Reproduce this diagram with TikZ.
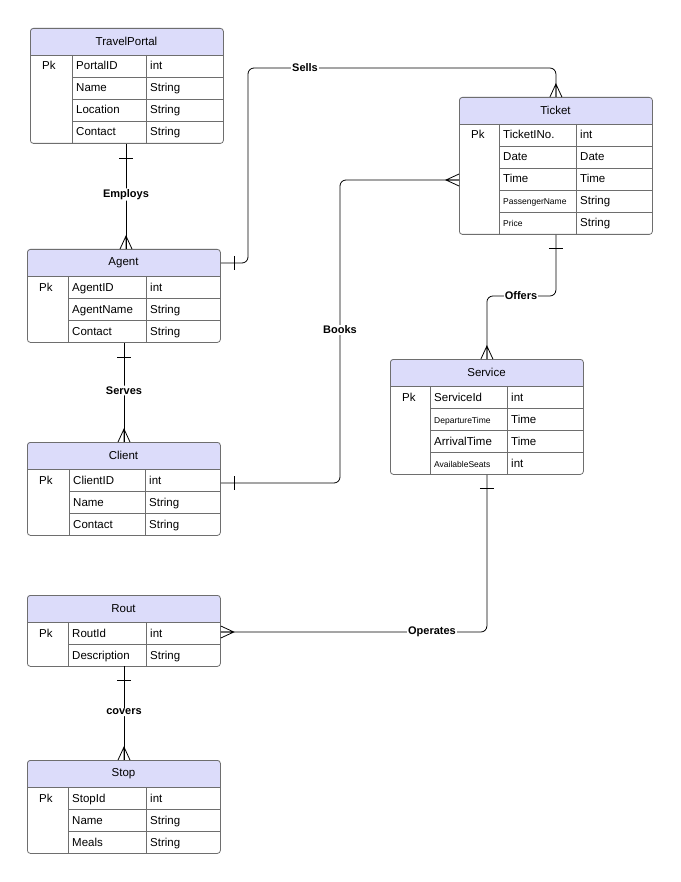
\documentclass[tikz,border=0pt]{standalone}
\usepackage{fontspec}
\setmainfont{Liberation Sans}
\usetikzlibrary{calc,positioning}
\definecolor{hdrcol}{HTML}{DCDCFA}
\definecolor{edgecol}{HTML}{6E6E6E}
\tikzset{
  ent/.style={draw=edgecol, line width=0.8pt, rounded corners=3pt, inner sep=0pt, anchor=north west},
  cell/.style={anchor=base west, inner sep=0pt, font=\fontsize{11.5}{13}\selectfont},
  lbl/.style={fill=white, inner sep=1pt, font=\bfseries\fontsize{11}{13}\selectfont},
  conn/.style={line width=0.8pt, rounded corners=6pt},
}
% entity: name, x, y, number of rows, column 1, column 2, title, rows
\newcommand{\entity}[8]{%
  \pgfmathsetmacro\eh{27+22*#4}
  \fill[hdrcol, rounded corners=3pt] (#2,#3+27) [sharp corners] -- (#2,#3+10) [rounded corners=3pt] -- (#2,#3) -- (#2+193,#3) [sharp corners] -- (#2+193,#3+27) -- cycle;
  \node[ent, minimum width=193pt, minimum height=\eh pt] (#1) at (#2,#3) {};
  \node[font=\fontsize{11.5}{13}\selectfont] at (#2+96.5,#3+13.5) {#7};
  \draw[edgecol, line width=0.8pt] (#2,#3+27) -- (#2+193,#3+27);
  \draw[edgecol] (#2+#5,#3+27) -- (#2+#5,#3+\eh) (#2+#6,#3+27) -- (#2+#6,#3+\eh);
  \foreach \pk/\nm/\ty [count=\i] in {#8} {
    \node[cell] at (#2+12,#3+20+22*\i) {\pk};
    \node[cell] at (#2+#5+4,#3+20+22*\i) {\nm};
    \node[cell] at (#2+#6+4,#3+20+22*\i) {\ty};
  }
  \foreach \i in {2,...,#4} {
    \draw[edgecol] (#2+#5,#3+5+22*\i) -- (#2+193,#3+5+22*\i);
  }
}
% one-bar end and crow's foot end; point, outward direction
\newcommand{\onebar}[3]{\draw[line width=0.8pt] ($#1+(14*#2-7*#3,14*#3-7*#2)$) -- ($#1+(14*#2+7*#3,14*#3+7*#2)$);}
\newcommand{\crowfoot}[3]{\draw[line width=0.8pt] ($#1+(-6*#3,-6*#2)$) -- ($#1+(13*#2,13*#3)$) -- ($#1+(6*#3,6*#2)$) ($#1+(13*#2,13*#3)$) -- #1;}
\begin{document}
\begin{tikzpicture}[x=1pt,y=-1pt]
\useasboundingbox (0,0) rectangle (680,882);
\entity{portal}{30}{28}{4}{42}{116}{TravelPortal}{Pk/PortalID/int, /Name/String, /Location/String, /Contact/String}
\entity{agent}{27}{249}{3}{41}{119}{Agent}{Pk/AgentID/int, /AgentName/String, /Contact/String}
\entity{client}{27}{442}{3}{42}{118}{Client}{Pk/ClientID/int, /Name/String, /Contact/String}
\entity{rout}{27}{595}{2}{41}{119}{Rout}{Pk/RoutId/int, /Description/String}
\entity{stop}{27}{760}{3}{41}{119}{Stop}{Pk/StopId/int, /Name/String, /Meals/String}
\entity{ticket}{459}{97}{5}{40}{117}{Ticket}{Pk/TicketINo./int, /Date/Date, /Time/Time, /{\fontsize{8.5}{10}\selectfont PassengerName}/String, /{\fontsize{8.5}{10}\selectfont Price}/String}
\entity{service}{390}{359}{4}{40}{117}{Service}{Pk/ServiceId/int, /{\fontsize{8.5}{10}\selectfont DepartureTime}/Time, /ArrivalTime/Time, /{\fontsize{8.5}{10}\selectfont AvailableSeats}/int}
% anchor points
\coordinate (portalS) at (126,144);
\coordinate (agentN) at (126,249);
\coordinate (agentS) at (124,343);
\coordinate (clientN) at (124,442);
\coordinate (routS) at (124,666);
\coordinate (stopN) at (124,760);
\coordinate (agentE) at ($(agent.north east)+(0,14)$);
\coordinate (clientE) at ($(client.north east)+(0,41)$);
\coordinate (routE) at ($(rout.north east)+(0,37)$);
\coordinate (ticketW) at ($(ticket.north west)+(0,83)$);
\coordinate (sellsTop) at (248,68);
\coordinate (booksTop) at (340,180);
\coordinate (offersMid) at (521,296);
% connectors
\draw[conn] (portalS) -- (agentN) node[lbl, pos=0.48] {Employs};
\draw[conn] (agentS) -- (clientN) node[lbl, pos=0.48] {Serves};
\draw[conn] (routS) -- (stopN) node[lbl, pos=0.49] {covers};
\draw[conn] (agentE) -| (sellsTop) -| (ticket.north);
\node[lbl] at (305,68) {Sells};
\draw[conn] (clientE) -| (booksTop) -- (ticketW);
\node[lbl] at (340,330) {Books};
\draw[conn] (ticket.south) |- (offersMid) -| (service.north);
\node[lbl] at (521,296) {Offers};
\draw[conn] (service.south) |- (routE);
\node[lbl] at (432,632) {Operates};
% ends
\onebar{(portalS)}{0}{1} \crowfoot{(agentN)}{0}{-1}
\onebar{(agentS)}{0}{1} \crowfoot{(clientN)}{0}{-1}
\onebar{(routS)}{0}{1} \crowfoot{(stopN)}{0}{-1}
\onebar{(agentE)}{1}{0} \crowfoot{(ticket.north)}{0}{-1}
\onebar{(clientE)}{1}{0} \crowfoot{(ticketW)}{-1}{0}
\onebar{(ticket.south)}{0}{1} \crowfoot{(service.north)}{0}{-1}
\onebar{(service.south)}{0}{1} \crowfoot{(routE)}{1}{0}
\end{tikzpicture}
\end{document}
